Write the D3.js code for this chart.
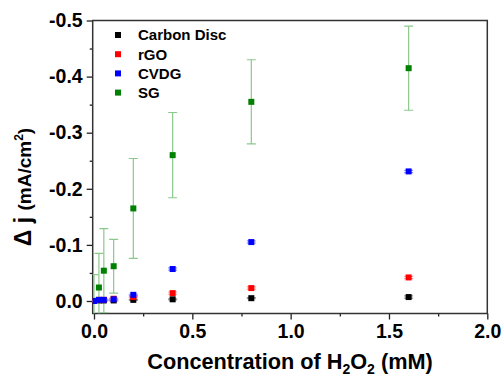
<!DOCTYPE html>
<html>
<head>
<meta charset="utf-8">
<script src="https://cdn.jsdelivr.net/npm/d3@7"></script>
<style>
  body { margin: 0; background: #fff; }
  text { font-family: "Liberation Sans", Arial, sans-serif; font-weight: bold; }
</style>
</head>
<body>
<script>
// concentrations (mM)
var conc = [0, 0.025, 0.05, 0.1, 0.2, 0.4, 0.8, 1.6];

// delta j values (mA/cm2)
var carbonDisc = [0, -0.001, -0.001, -0.001, -0.002, -0.003, -0.005, -0.007];
var rGO = [0, -0.002, -0.002, -0.004, -0.007, -0.014, -0.023, -0.042];
var cvdg = [0, -0.002, -0.002, -0.003, -0.011, -0.057, -0.105, -0.231];
var sg = [0, -0.024, -0.054, -0.062, -0.165, -0.26, -0.355, -0.415];

// error bars
var carbonErr = [0.001, 0.001, 0.001, 0.001, 0.001, 0.001, 0.001, 0.002];
var rgoErr = [0.001, 0.001, 0.001, 0.001, 0.001, 0.002, 0.002, 0.002];
var cvdgErr = [0.001, 0.001, 0.001, 0.001, 0.001, 0.002, 0.002, 0.002];
var sgErr = [0.047, 0.061, 0.075, 0.048, 0.089, 0.076, 0.075, 0.075];

var seriesNames = ["Carbon Disc", "rGO", "CVDG", "SG"];
var seriesColors = ["#000000", "#ff0000", "#0000ff", "#008000"];
var errColors = ["#909090", "#ff9090", "#9090ff", "#8cc88c"];

var xTicks = [0, 0.5, 1.0, 1.5, 2.0];
var yTicks = [0, -0.1, -0.2, -0.3, -0.4, -0.5];

var W = 504, H = 379;
var pLeft = 92.7, pRight = 487.3, pTop = 20.5, pBottom = 313.5;

var x = d3.scaleLinear().domain([-0.0066, 2.0]).range([pLeft, pRight]);
var y = d3.scaleLinear().domain([0.0223, -0.5]).range([pBottom, pTop]);

var svg = d3.select("body").append("svg")
  .attr("width", W)
  .attr("height", H);

svg.append("defs").append("clipPath").attr("id", "plotclip")
  .append("rect")
  .attr("x", pLeft).attr("y", pTop)
  .attr("width", pRight - pLeft).attr("height", pBottom - pTop);

// x axis
var xAxis = d3.axisBottom(x)
  .tickValues(xTicks)
  .tickSize(6)
  .tickPadding(5)
  .tickFormat(d3.format(".1f"));
var gx = svg.append("g")
  .attr("transform", "translate(0," + pBottom + ")")
  .call(xAxis);
gx.select(".domain").remove();
gx.selectAll("line").attr("stroke", "#222").attr("stroke-width", 1.3);
gx.selectAll("text").attr("fill", "#000").style("font-size", "19.5px");

var gxMinor = svg.append("g")
  .attr("transform", "translate(0," + pBottom + ")")
  .call(d3.axisBottom(x).tickValues([0.25, 0.75, 1.25, 1.75]).tickSize(3).tickFormat(""));
gxMinor.select(".domain").remove();
gxMinor.selectAll("line").attr("stroke", "#222").attr("stroke-width", 1.3);

// y axis
var yAxis = d3.axisLeft(y)
  .tickValues(yTicks)
  .tickSize(6)
  .tickPadding(4)
  .tickFormat(function(d) { return d3.format(".1f")(d).replace("\u2212", "-"); });
var gy = svg.append("g")
  .attr("transform", "translate(" + pLeft + ",0)")
  .call(yAxis);
gy.select(".domain").remove();
gy.selectAll("line").attr("stroke", "#222").attr("stroke-width", 1.3);
gy.selectAll("text").attr("fill", "#000").style("font-size", "19.5px");

var gyMinor = svg.append("g")
  .attr("transform", "translate(" + pLeft + ",0)")
  .call(d3.axisLeft(y).tickValues([-0.05, -0.15, -0.25, -0.35, -0.45]).tickSize(3).tickFormat(""));
gyMinor.select(".domain").remove();
gyMinor.selectAll("line").attr("stroke", "#222").attr("stroke-width", 1.3);

// frame
svg.append("rect")
  .attr("x", pLeft).attr("y", pTop)
  .attr("width", pRight - pLeft).attr("height", pBottom - pTop)
  .attr("fill", "none")
  .attr("stroke", "#333")
  .attr("stroke-width", 1.5);

// data
var allVals = [carbonDisc, rGO, cvdg, sg];
var allErr = [carbonErr, rgoErr, cvdgErr, sgErr];
var drawOrder = [3, 0, 1, 2];

var plot = svg.append("g").attr("clip-path", "url(#plotclip)");

drawOrder.forEach(function(si) {
  var pts = conc.map(function(c, i) {
    return { x: c, y: allVals[si][i], e: allErr[si][i] };
  });
  var g = plot.append("g");
  var eb = g.selectAll("g.err").data(pts).enter().append("g").attr("class", "err")
    .attr("stroke", errColors[si]).attr("stroke-width", 1.2);
  eb.append("line")
    .attr("x1", function(d) { return x(d.x); })
    .attr("x2", function(d) { return x(d.x); })
    .attr("y1", function(d) { return y(d.y - d.e); })
    .attr("y2", function(d) { return y(d.y + d.e); });
  eb.append("line")
    .attr("x1", function(d) { return x(d.x) - 4.5; })
    .attr("x2", function(d) { return x(d.x) + 4.5; })
    .attr("y1", function(d) { return y(d.y - d.e); })
    .attr("y2", function(d) { return y(d.y - d.e); });
  eb.append("line")
    .attr("x1", function(d) { return x(d.x) - 4.5; })
    .attr("x2", function(d) { return x(d.x) + 4.5; })
    .attr("y1", function(d) { return y(d.y + d.e); })
    .attr("y2", function(d) { return y(d.y + d.e); });
  g.selectAll("rect").data(pts).enter().append("rect")
    .attr("x", function(d) { return x(d.x) - 3; })
    .attr("y", function(d) { return y(d.y) - 3; })
    .attr("width", 6).attr("height", 6)
    .attr("fill", seriesColors[si]);
});

// legend
var legend = svg.append("g").selectAll("g").data(seriesNames).enter().append("g")
  .attr("transform", function(d, i) { return "translate(118," + (35 + i * 19.2) + ")"; });
legend.append("rect")
  .attr("x", -3).attr("y", -3).attr("width", 6).attr("height", 6)
  .attr("fill", function(d, i) { return seriesColors[i]; });
legend.append("text")
  .attr("x", 20).attr("y", 0).attr("dy", "0.36em")
  .style("font-size", "15px")
  .text(function(d) { return d; });

// x title
var xt = svg.append("text")
  .attr("x", 290)
  .attr("y", 369)
  .attr("text-anchor", "middle")
  .style("font-size", "21.7px");
xt.append("tspan").text("Concentration of H");
xt.append("tspan").attr("dy", 5).style("font-size", "14px").text("2");
xt.append("tspan").attr("dy", -5).text("O");
xt.append("tspan").attr("dy", 5).style("font-size", "14px").text("2");
xt.append("tspan").attr("dy", -5).text(" (mM)");

// y title
var yt = svg.append("text")
  .attr("transform", "translate(31,187) rotate(-90)")
  .attr("text-anchor", "middle");
yt.append("tspan").style("font-size", "23px").text("\u0394 j ");
yt.append("tspan").style("font-size", "19px").text("(mA/cm");
yt.append("tspan").attr("dy", -8).style("font-size", "12px").text("2");
yt.append("tspan").attr("dy", 8).style("font-size", "19px").text(")");
</script>
</body>
</html>
